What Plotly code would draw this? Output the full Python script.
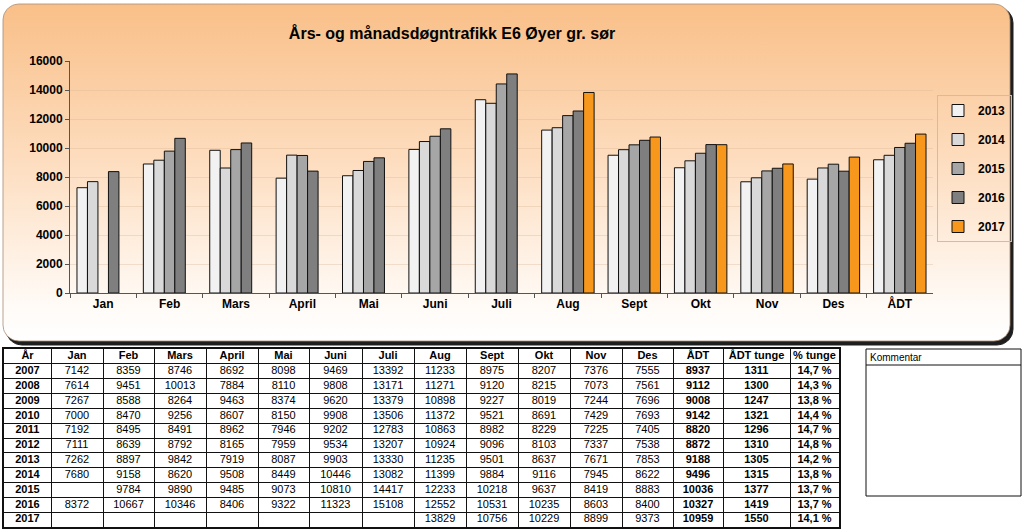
import numpy as np
import plotly.graph_objects as go

# ---------------- data ----------------
months = ["Jan", "Feb", "Mars", "April", "Mai", "Juni", "Juli", "Aug", "Sept", "Okt", "Nov", "Des"]
chart_categories = months + ["ÅDT"]
table_years = ["2007", "2008", "2009", "2010", "2011", "2012", "2013", "2014", "2015", "2016", "2017"]

m2007 = [7142, 8359, 8746, 8692, 8098, 9469, 13392, 11233, 8975, 8207, 7376, 7555]
m2008 = [7614, 9451, 10013, 7884, 8110, 9808, 13171, 11271, 9120, 8215, 7073, 7561]
m2009 = [7267, 8588, 8264, 9463, 8374, 9620, 13379, 10898, 9227, 8019, 7244, 7696]
m2010 = [7000, 8470, 9256, 8607, 8150, 9908, 13506, 11372, 9521, 8691, 7429, 7693]
m2011 = [7192, 8495, 8491, 8962, 7946, 9202, 12783, 10863, 8982, 8229, 7225, 7405]
m2012 = [7111, 8639, 8792, 8165, 7959, 9534, 13207, 10924, 9096, 8103, 7337, 7538]
m2013 = [7262, 8897, 9842, 7919, 8087, 9903, 13330, 11235, 9501, 8637, 7671, 7853]
m2014 = [7680, 9158, 8620, 9508, 8449, 10446, 13082, 11399, 9884, 9116, 7945, 8622]
m2015 = [None, 9784, 9890, 9485, 9073, 10810, 14417, 12233, 10218, 9637, 8419, 8883]
m2016 = [8372, 10667, 10346, 8406, 9322, 11323, 15108, 12552, 10531, 10235, 8603, 8400]
m2017 = [None, None, None, None, None, None, None, 13829, 10756, 10229, 8899, 9373]

adt = [8937, 9112, 9008, 9142, 8820, 8872, 9188, 9496, 10036, 10327, 10959]
adt_tunge = [1311, 1300, 1247, 1321, 1296, 1310, 1305, 1315, 1377, 1419, 1550]
pct_tunge = ["14,7 %", "14,3 %", "13,8 %", "14,4 %", "14,7 %", "14,8 %", "14,2 %", "13,8 %", "13,7 %", "13,7 %", "14,1 %"]

chart_years = ["2013", "2014", "2015", "2016", "2017"]
bar_colors = ["#F2F2F2", "#D9D9D9", "#A6A6A6", "#7F7F7F", "#F7981D"]

title_text = "Års- og månadsdøgntrafikk E6 Øyer gr. sør"
table_header = ["År"] + months + ["ÅDT", "ÅDT tunge", "% tunge"]
comment_header = "Kommentar"

# ---------------- figure ----------------
W, H = 1023, 530
FONT = "Arial, Liberation Sans, sans-serif"
monthly = dict(zip(table_years, [m2007, m2008, m2009, m2010, m2011, m2012, m2013, m2014, m2015, m2016, m2017]))
adt_by_year = dict(zip(table_years, adt))

fig = go.Figure()


def rounded_rect(x0, y0, x1, y1, r, n=12):
    xs, ys = [], []
    corners = [(x1 - r, y0 + r, -90, 0), (x1 - r, y1 - r, 0, 90),
               (x0 + r, y1 - r, 90, 180), (x0 + r, y0 + r, 180, 270)]
    for cx, cy, a0, a1 in corners:
        t = np.radians(np.linspace(a0, a1, n))
        xs += list(cx + r * np.cos(t))
        ys += list(cy + r * np.sin(t))
    xs.append(xs[0]); ys.append(ys[0])
    return xs, ys


# shadow + gradient panel (background subplot in pixel units)
sx, sy = rounded_rect(6, 7, 1013, 345, 16)
fig.add_trace(go.Scatter(x=sx, y=sy, mode="lines", fill="toself", fillcolor="#1E1E1E",
                         line=dict(color="#1E1E1E", width=1), showlegend=False, hoverinfo="skip",
                         xaxis="x", yaxis="y"))
px, py = rounded_rect(3, 4, 1010, 341, 16)
fig.add_trace(go.Scatter(x=px, y=py, mode="lines", fill="toself",
                         fillgradient=dict(type="vertical", start=4, stop=341,
                                           colorscale=[[0, "#F9BF88"], [0.45, "#FDDCBD"], [0.9, "#FFFBF7"], [1, "#FFFFFF"]]),
                         line=dict(color="rgba(170,140,115,0.8)", width=1), showlegend=False, hoverinfo="skip",
                         xaxis="x", yaxis="y"))

# bars
for yr, col in zip(chart_years, bar_colors):
    fig.add_trace(go.Bar(x=chart_categories, y=monthly[yr] + [adt_by_year[yr]], name=yr,
                         marker=dict(color=col, line=dict(color="#111111", width=1)),
                         legendgroup=yr, xaxis="x2", yaxis="y2", hoverinfo="x+y+name"))

# table drawn as text on its own axes (columns in px units, rows as index)
col_widths = [47, 52, 51, 52, 52, 51, 53, 52, 52, 52, 52, 52, 51, 50, 67, 49]
bounds = np.concatenate([[0], np.cumsum(col_widths)])
centers = (bounds[:-1] + bounds[1:]) / 2


def fmt(v):
    return "" if v is None else str(v)


columns = [table_years]
for i in range(12):
    columns.append([fmt(monthly[y][i]) for y in table_years])
columns.append([str(v) for v in adt])
columns.append([str(v) for v in adt_tunge])
columns.append(pct_tunge)
bold_cols = {0, 13, 14, 15}

tx, ty, tt = [], [], []
for c, head in enumerate(table_header):
    tx.append(centers[c]); ty.append(0); tt.append("<b>%s</b>" % head)
    for r, val in enumerate(columns[c]):
        if val == "":
            continue
        tx.append(centers[c]); ty.append(r + 1)
        tt.append("<b>%s</b>" % val if c in bold_cols else val)

fig.add_trace(go.Scatter(x=tx, y=ty, text=tt, mode="text", textposition="middle center",
                         textfont=dict(family=FONT, size=11, color="black"),
                         showlegend=False, hoverinfo="skip", xaxis="x3", yaxis="y3"))

n_rows = len(table_years) + 1

fig.update_layout(
    width=W, height=H, margin=dict(l=0, r=0, t=0, b=0, autoexpand=False),
    paper_bgcolor="white", plot_bgcolor="rgba(0,0,0,0)",
    barmode="group", bargap=0.21, bargroupgap=0,
    font=dict(family=FONT, color="black"),
    title=dict(text="<b>%s</b>" % title_text, x=452 / W, y=1 - 33 / H, xanchor="center", yanchor="middle",
               font=dict(family=FONT, size=16, color="black")),
    xaxis=dict(domain=[0, 1], range=[0, W], visible=False, fixedrange=True),
    yaxis=dict(domain=[0, 1], range=[H, 0], visible=False, fixedrange=True),
    xaxis2=dict(domain=[70 / W, 933 / W], anchor="y2", type="category", showline=True,
                linecolor="#555555", linewidth=1, ticks="outside", ticklen=4, tickcolor="#555555",
                tickson="boundaries", showgrid=False,
                tickfont=dict(family=FONT, size=12, color="black", weight="bold")),
    yaxis2=dict(domain=[(H - 293) / H, (H - 61) / H], anchor="x2", range=[0, 16000], dtick=2000,
                showline=True, linecolor="#555555", linewidth=1, ticks="outside", ticklen=4,
                tickcolor="#555555", showgrid=True, gridcolor="rgba(215,180,145,0.35)", gridwidth=1,
                zeroline=False, tickformat="d",
                tickfont=dict(family=FONT, size=12, color="black", weight="bold")),
    xaxis3=dict(domain=[4 / W, 839 / W], anchor="y3", range=[0, bounds[-1]], showline=True, mirror=True,
                linecolor="#111111", linewidth=2, tickvals=list(bounds[1:-1]), showticklabels=False,
                ticks="", showgrid=True, gridcolor="#111111", gridwidth=1, zeroline=False, fixedrange=True),
    yaxis3=dict(domain=[(H - 527) / H, (H - 349) / H], anchor="x3", range=[n_rows - 0.5, -0.5],
                showline=True, mirror=True, linecolor="#111111", linewidth=2,
                tickvals=[r + 0.5 for r in range(n_rows - 1)], showticklabels=False, ticks="",
                showgrid=True, gridcolor="#111111", gridwidth=1, zeroline=False, fixedrange=True),
    legend=dict(x=937 / W, y=1 - 95 / H, xanchor="left", yanchor="top", bordercolor="#C0C0C0",
                borderwidth=1, bgcolor="rgba(0,0,0,0)", tracegroupgap=10,
                font=dict(family=FONT, size=12, color="black", weight="bold")),
    shapes=[
        dict(type="rect", xref="x2 domain", yref="y2 domain", x0=0, x1=1, y0=0, y1=1,
             line=dict(color="#9A9A9A", width=1), fillcolor="rgba(0,0,0,0)", layer="below"),
        dict(type="rect", xref="paper", yref="paper", x0=866 / W, x1=1021 / W, y0=1 - 496 / H, y1=1 - 349 / H,
             line=dict(color="#111111", width=1), fillcolor="white"),
        dict(type="line", xref="paper", yref="paper", x0=866 / W, x1=1021 / W, y0=1 - 365 / H, y1=1 - 365 / H,
             line=dict(color="#111111", width=1)),
    ],
    annotations=[dict(text=comment_header, xref="paper", yref="paper", x=868 / W, y=1 - 357 / H,
                      xanchor="left", yanchor="middle", showarrow=False,
                      font=dict(family=FONT, size=10, color="black"))],
)

fig.write_html("out.html", config={"displayModeBar": False},
               post_script="document.body.style.margin='0';document.body.style.padding='0';"
                           "document.documentElement.style.overflow='hidden';")
